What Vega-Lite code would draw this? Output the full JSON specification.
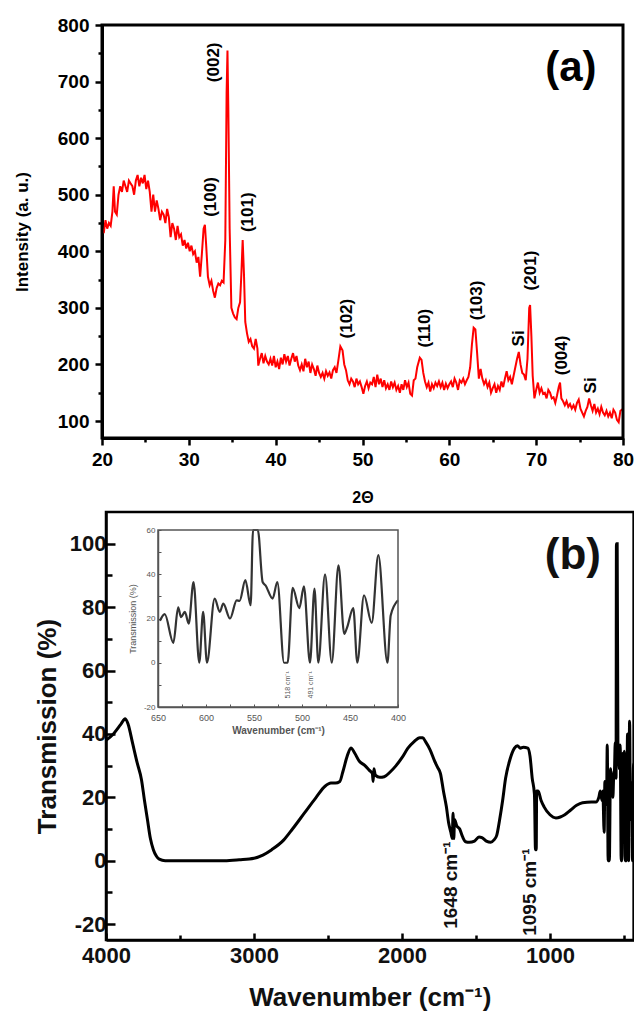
{
"$schema": "https://vega.github.io/schema/vega-lite/v6.json",
"width": 634, "height": 1012,
"autosize": {"type": "none"},
"padding": 0,
"background": "white",
"config": {"view": {"stroke": null}, "axis": {"grid": false, "labelFont": "Liberation Sans", "titleFont": "Liberation Sans", "labelFlush": false, "labelOverlap": false, "labelBound": false}, "text": {"font": "Liberation Sans"}},
"datasets": {
"xrd": [
{"two_theta":20.0,"intensity":440},{"two_theta":20.2,"intensity":432},{"two_theta":20.4,"intensity":455},{"two_theta":20.6,"intensity":440},{"two_theta":20.8,"intensity":450},{"two_theta":21.0,"intensity":445},{"two_theta":21.2,"intensity":470},{"two_theta":21.35,"intensity":515},{"two_theta":21.5,"intensity":470},{"two_theta":21.7,"intensity":465},{"two_theta":21.9,"intensity":500},{"two_theta":22.1,"intensity":515},{"two_theta":22.3,"intensity":505},{"two_theta":22.5,"intensity":525},{"two_theta":22.7,"intensity":515},{"two_theta":22.9,"intensity":505},{"two_theta":23.1,"intensity":525},{"two_theta":23.3,"intensity":520},{"two_theta":23.5,"intensity":515},{"two_theta":23.7,"intensity":500},{"two_theta":23.9,"intensity":525},{"two_theta":24.1,"intensity":535},{"two_theta":24.3,"intensity":515},{"two_theta":24.5,"intensity":530},{"two_theta":24.7,"intensity":520},{"two_theta":24.9,"intensity":535},{"two_theta":25.1,"intensity":510},{"two_theta":25.3,"intensity":525},{"two_theta":25.5,"intensity":505},{"two_theta":25.7,"intensity":470},{"two_theta":25.9,"intensity":500},{"two_theta":26.1,"intensity":470},{"two_theta":26.3,"intensity":490},{"two_theta":26.5,"intensity":475},{"two_theta":26.7,"intensity":455},{"two_theta":26.9,"intensity":470},{"two_theta":27.1,"intensity":465},{"two_theta":27.3,"intensity":450},{"two_theta":27.5,"intensity":475},{"two_theta":27.7,"intensity":460},{"two_theta":27.9,"intensity":425},{"two_theta":28.1,"intensity":450},{"two_theta":28.3,"intensity":440},{"two_theta":28.5,"intensity":420},{"two_theta":28.7,"intensity":445},{"two_theta":28.9,"intensity":425},{"two_theta":29.1,"intensity":430},{"two_theta":29.3,"intensity":410},{"two_theta":29.5,"intensity":420},{"two_theta":29.7,"intensity":405},{"two_theta":29.9,"intensity":415},{"two_theta":30.1,"intensity":400},{"two_theta":30.3,"intensity":410},{"two_theta":30.5,"intensity":395},{"two_theta":30.7,"intensity":400},{"two_theta":30.9,"intensity":380},{"two_theta":31.1,"intensity":390},{"two_theta":31.3,"intensity":355},{"two_theta":31.5,"intensity":395},{"two_theta":31.7,"intensity":440},{"two_theta":31.85,"intensity":447},{"two_theta":32.0,"intensity":410},{"two_theta":32.2,"intensity":355},{"two_theta":32.4,"intensity":340},{"two_theta":32.6,"intensity":348},{"two_theta":32.8,"intensity":330},{"two_theta":33.0,"intensity":318},{"two_theta":33.2,"intensity":335},{"two_theta":33.4,"intensity":343},{"two_theta":33.6,"intensity":340},{"two_theta":33.8,"intensity":348},{"two_theta":34.0,"intensity":345},{"two_theta":34.2,"intensity":420},{"two_theta":34.35,"intensity":680},{"two_theta":34.45,"intensity":755},{"two_theta":34.55,"intensity":650},{"two_theta":34.7,"intensity":440},{"two_theta":34.9,"intensity":300},{"two_theta":35.1,"intensity":290},{"two_theta":35.3,"intensity":283},{"two_theta":35.5,"intensity":280},{"two_theta":35.7,"intensity":300},{"two_theta":35.9,"intensity":310},{"two_theta":36.05,"intensity":360},{"two_theta":36.2,"intensity":420},{"two_theta":36.35,"intensity":360},{"two_theta":36.5,"intensity":275},{"two_theta":36.7,"intensity":255},{"two_theta":36.9,"intensity":240},{"two_theta":37.1,"intensity":245},{"two_theta":37.3,"intensity":232},{"two_theta":37.5,"intensity":228},{"two_theta":37.7,"intensity":245},{"two_theta":37.9,"intensity":228},{"two_theta":38.0,"intensity":198},{"two_theta":38.2,"intensity":210},{"two_theta":38.4,"intensity":220},{"two_theta":38.6,"intensity":202},{"two_theta":38.8,"intensity":215},{"two_theta":39.0,"intensity":205},{"two_theta":39.2,"intensity":200},{"two_theta":39.4,"intensity":210},{"two_theta":39.6,"intensity":198},{"two_theta":39.8,"intensity":215},{"two_theta":40.0,"intensity":195},{"two_theta":40.2,"intensity":205},{"two_theta":40.4,"intensity":192},{"two_theta":40.6,"intensity":212},{"two_theta":40.8,"intensity":200},{"two_theta":41.0,"intensity":218},{"two_theta":41.2,"intensity":205},{"two_theta":41.4,"intensity":215},{"two_theta":41.6,"intensity":198},{"two_theta":41.8,"intensity":210},{"two_theta":42.0,"intensity":220},{"two_theta":42.2,"intensity":205},{"two_theta":42.4,"intensity":215},{"two_theta":42.6,"intensity":198},{"two_theta":42.8,"intensity":190},{"two_theta":43.0,"intensity":200},{"two_theta":43.2,"intensity":188},{"two_theta":43.4,"intensity":210},{"two_theta":43.6,"intensity":195},{"two_theta":43.8,"intensity":205},{"two_theta":44.0,"intensity":185},{"two_theta":44.2,"intensity":200},{"two_theta":44.4,"intensity":192},{"two_theta":44.6,"intensity":180},{"two_theta":44.8,"intensity":198},{"two_theta":45.0,"intensity":185},{"two_theta":45.2,"intensity":178},{"two_theta":45.4,"intensity":185},{"two_theta":45.6,"intensity":175},{"two_theta":45.8,"intensity":188},{"two_theta":46.0,"intensity":180},{"two_theta":46.2,"intensity":186},{"two_theta":46.4,"intensity":175},{"two_theta":46.6,"intensity":190},{"two_theta":46.8,"intensity":195},{"two_theta":47.0,"intensity":185},{"two_theta":47.2,"intensity":205},{"two_theta":47.45,"intensity":232},{"two_theta":47.7,"intensity":225},{"two_theta":47.9,"intensity":200},{"two_theta":48.1,"intensity":190},{"two_theta":48.3,"intensity":172},{"two_theta":48.5,"intensity":165},{"two_theta":48.7,"intensity":175},{"two_theta":48.9,"intensity":170},{"two_theta":49.1,"intensity":160},{"two_theta":49.3,"intensity":175},{"two_theta":49.5,"intensity":165},{"two_theta":49.7,"intensity":170},{"two_theta":49.9,"intensity":160},{"two_theta":50.1,"intensity":148},{"two_theta":50.3,"intensity":162},{"two_theta":50.5,"intensity":170},{"two_theta":50.7,"intensity":158},{"two_theta":50.9,"intensity":168},{"two_theta":51.1,"intensity":165},{"two_theta":51.3,"intensity":178},{"two_theta":51.5,"intensity":160},{"two_theta":51.7,"intensity":182},{"two_theta":51.9,"intensity":165},{"two_theta":52.1,"intensity":175},{"two_theta":52.3,"intensity":160},{"two_theta":52.5,"intensity":172},{"two_theta":52.7,"intensity":158},{"two_theta":52.9,"intensity":165},{"two_theta":53.1,"intensity":155},{"two_theta":53.3,"intensity":170},{"two_theta":53.5,"intensity":160},{"two_theta":53.7,"intensity":168},{"two_theta":53.9,"intensity":155},{"two_theta":54.1,"intensity":162},{"two_theta":54.3,"intensity":150},{"two_theta":54.5,"intensity":165},{"two_theta":54.7,"intensity":155},{"two_theta":54.9,"intensity":172},{"two_theta":55.1,"intensity":160},{"two_theta":55.3,"intensity":168},{"two_theta":55.5,"intensity":148},{"two_theta":55.7,"intensity":145},{"two_theta":55.9,"intensity":172},{"two_theta":56.1,"intensity":175},{"two_theta":56.3,"intensity":195},{"two_theta":56.6,"intensity":212},{"two_theta":56.8,"intensity":208},{"two_theta":57.0,"intensity":185},{"two_theta":57.2,"intensity":170},{"two_theta":57.4,"intensity":160},{"two_theta":57.6,"intensity":168},{"two_theta":57.8,"intensity":152},{"two_theta":58.0,"intensity":165},{"two_theta":58.2,"intensity":158},{"two_theta":58.4,"intensity":168},{"two_theta":58.6,"intensity":162},{"two_theta":58.8,"intensity":170},{"two_theta":59.0,"intensity":160},{"two_theta":59.2,"intensity":168},{"two_theta":59.4,"intensity":155},{"two_theta":59.6,"intensity":166},{"two_theta":59.8,"intensity":158},{"two_theta":60.0,"intensity":165},{"two_theta":60.2,"intensity":170},{"two_theta":60.4,"intensity":160},{"two_theta":60.6,"intensity":175},{"two_theta":60.8,"intensity":168},{"two_theta":61.0,"intensity":155},{"two_theta":61.2,"intensity":172},{"two_theta":61.4,"intensity":168},{"two_theta":61.6,"intensity":175},{"two_theta":61.8,"intensity":165},{"two_theta":62.0,"intensity":172},{"two_theta":62.2,"intensity":178},{"two_theta":62.4,"intensity":195},{"two_theta":62.6,"intensity":235},{"two_theta":62.8,"intensity":265},{"two_theta":63.0,"intensity":262},{"two_theta":63.2,"intensity":220},{"two_theta":63.4,"intensity":175},{"two_theta":63.6,"intensity":192},{"two_theta":63.8,"intensity":175},{"two_theta":64.0,"intensity":165},{"two_theta":64.2,"intensity":172},{"two_theta":64.4,"intensity":160},{"two_theta":64.6,"intensity":168},{"two_theta":64.8,"intensity":150},{"two_theta":65.0,"intensity":158},{"two_theta":65.2,"intensity":165},{"two_theta":65.4,"intensity":150},{"two_theta":65.6,"intensity":162},{"two_theta":65.8,"intensity":155},{"two_theta":66.0,"intensity":170},{"two_theta":66.2,"intensity":160},{"two_theta":66.4,"intensity":175},{"two_theta":66.6,"intensity":188},{"two_theta":66.8,"intensity":172},{"two_theta":67.0,"intensity":178},{"two_theta":67.2,"intensity":165},{"two_theta":67.4,"intensity":180},{"two_theta":67.6,"intensity":195},{"two_theta":67.8,"intensity":210},{"two_theta":68.0,"intensity":222},{"two_theta":68.2,"intensity":200},{"two_theta":68.4,"intensity":185},{"two_theta":68.6,"intensity":182},{"two_theta":68.8,"intensity":172},{"two_theta":69.0,"intensity":210},{"two_theta":69.2,"intensity":300},{"two_theta":69.3,"intensity":305},{"two_theta":69.45,"intensity":250},{"two_theta":69.6,"intensity":180},{"two_theta":69.8,"intensity":140},{"two_theta":70.0,"intensity":155},{"two_theta":70.2,"intensity":168},{"two_theta":70.4,"intensity":150},{"two_theta":70.6,"intensity":158},{"two_theta":70.8,"intensity":148},{"two_theta":71.0,"intensity":150},{"two_theta":71.2,"intensity":140},{"two_theta":71.4,"intensity":155},{"two_theta":71.6,"intensity":150},{"two_theta":71.8,"intensity":140},{"two_theta":72.0,"intensity":142},{"two_theta":72.2,"intensity":132},{"two_theta":72.4,"intensity":145},{"two_theta":72.6,"intensity":160},{"two_theta":72.75,"intensity":168},{"two_theta":72.9,"intensity":140},{"two_theta":73.1,"intensity":135},{"two_theta":73.3,"intensity":128},{"two_theta":73.5,"intensity":135},{"two_theta":73.7,"intensity":125},{"two_theta":73.9,"intensity":130},{"two_theta":74.1,"intensity":122},{"two_theta":74.3,"intensity":128},{"two_theta":74.5,"intensity":120},{"two_theta":74.7,"intensity":132},{"two_theta":74.9,"intensity":138},{"two_theta":75.1,"intensity":122},{"two_theta":75.3,"intensity":115},{"two_theta":75.5,"intensity":108},{"two_theta":75.7,"intensity":118},{"two_theta":75.9,"intensity":125},{"two_theta":76.1,"intensity":140},{"two_theta":76.3,"intensity":128},{"two_theta":76.5,"intensity":118},{"two_theta":76.7,"intensity":130},{"two_theta":76.9,"intensity":115},{"two_theta":77.1,"intensity":122},{"two_theta":77.3,"intensity":112},{"two_theta":77.5,"intensity":125},{"two_theta":77.7,"intensity":115},{"two_theta":77.9,"intensity":110},{"two_theta":78.1,"intensity":118},{"two_theta":78.3,"intensity":108},{"two_theta":78.5,"intensity":115},{"two_theta":78.7,"intensity":105},{"two_theta":78.9,"intensity":120},{"two_theta":79.1,"intensity":115},{"two_theta":79.3,"intensity":102},{"two_theta":79.5,"intensity":98},{"two_theta":79.7,"intensity":118},{"two_theta":79.9,"intensity":120},{"two_theta":80.0,"intensity":122}
],
"xrdLabels": [
{"two_theta":32.95,"intensity":734,"label":"(002)"},
{"two_theta":32.5,"intensity":496,"label":"(100)"},
{"two_theta":36.8,"intensity":469,"label":"(101)"},
{"two_theta":48.2,"intensity":281,"label":"(102)"},
{"two_theta":57.2,"intensity":264,"label":"(110)"},
{"two_theta":63.2,"intensity":313,"label":"(103)"},
{"two_theta":68.0,"intensity":246,"label":"Si"},
{"two_theta":69.4,"intensity":366,"label":"(201)"},
{"two_theta":73.0,"intensity":216,"label":"(004)"},
{"two_theta":76.3,"intensity":163,"label":"Si"}
],
"panelA": [{"two_theta":74.0,"intensity":724,"label":"(a)"}],
"frameA": [{"two_theta":20,"two_theta_end":80,"intensity":70,"intensity_end":800}],
"ftir": [
{"wn":4000,"T":38},{"wn":3950,"T":40},{"wn":3900,"T":43},{"wn":3870,"T":44.8},{"wn":3850,"T":43},{"wn":3820,"T":37},{"wn":3790,"T":31},{"wn":3760,"T":25.5},{"wn":3740,"T":19},{"wn":3720,"T":13},{"wn":3700,"T":7},{"wn":3680,"T":3.5},{"wn":3660,"T":1.5},{"wn":3640,"T":0.5},{"wn":3600,"T":0},{"wn":3400,"T":0},{"wn":3200,"T":0},{"wn":3100,"T":0.3},{"wn":3000,"T":0.8},{"wn":2940,"T":1.8},{"wn":2880,"T":3.5},{"wn":2800,"T":6.5},{"wn":2740,"T":10},{"wn":2660,"T":15},{"wn":2580,"T":20},{"wn":2520,"T":23.5},{"wn":2480,"T":24.5},{"wn":2450,"T":24.5},{"wn":2420,"T":25},{"wn":2400,"T":28},{"wn":2370,"T":33},{"wn":2345,"T":35.6},{"wn":2320,"T":34},{"wn":2290,"T":31.5},{"wn":2250,"T":30},{"wn":2220,"T":28.5},{"wn":2200,"T":27.5},{"wn":2195,"T":25},{"wn":2190,"T":29},{"wn":2180,"T":27},{"wn":2150,"T":26.3},{"wn":2120,"T":26.5},{"wn":2080,"T":28},{"wn":2040,"T":30},{"wn":2000,"T":32.5},{"wn":1960,"T":35.5},{"wn":1920,"T":37.5},{"wn":1880,"T":38.8},{"wn":1860,"T":38.8},{"wn":1840,"T":37.5},{"wn":1810,"T":35},{"wn":1780,"T":31.5},{"wn":1760,"T":29.5},{"wn":1740,"T":27.5},{"wn":1720,"T":22},{"wn":1700,"T":17},{"wn":1685,"T":12},{"wn":1670,"T":9},{"wn":1660,"T":7},{"wn":1655,"T":15},{"wn":1650,"T":7},{"wn":1645,"T":13},{"wn":1630,"T":11},{"wn":1610,"T":10},{"wn":1590,"T":7.5},{"wn":1570,"T":6},{"wn":1545,"T":5.8},{"wn":1510,"T":6.2},{"wn":1480,"T":7.5},{"wn":1460,"T":7.3},{"wn":1430,"T":6.2},{"wn":1400,"T":5.8},{"wn":1380,"T":6.5},{"wn":1360,"T":8},{"wn":1340,"T":13},{"wn":1320,"T":19},{"wn":1300,"T":26},{"wn":1270,"T":32},{"wn":1240,"T":35.5},{"wn":1220,"T":36.3},{"wn":1200,"T":35.5},{"wn":1180,"T":35.8},{"wn":1150,"T":35.5},{"wn":1135,"T":33},{"wn":1120,"T":26},{"wn":1105,"T":21},{"wn":1098,"T":3.5},{"wn":1093,"T":3.5},{"wn":1090,"T":22},{"wn":1080,"T":22},{"wn":1060,"T":19},{"wn":1040,"T":17},{"wn":1000,"T":14.5},{"wn":960,"T":13.5},{"wn":930,"T":13.8},{"wn":900,"T":14.5},{"wn":860,"T":16},{"wn":820,"T":17.5},{"wn":780,"T":18.3},{"wn":720,"T":18.5},{"wn":690,"T":18.5},{"wn":670,"T":20},{"wn":660,"T":22},
{"wn":648,"T":19},{"wn":643,"T":22},{"wn":634,"T":9},{"wn":629,"T":25},{"wn":626,"T":20.6},{"wn":622,"T":23},{"wn":618,"T":17.7},{"wn":613,"T":36.5},{"wn":607,"T":0},{"wn":603,"T":23},{"wn":599,"T":0},{"wn":591,"T":29},{"wn":585.6,"T":23},{"wn":582,"T":26.7},{"wn":575,"T":20},{"wn":568,"T":28.2},{"wn":565,"T":28},{"wn":559,"T":37.3},{"wn":553.5,"T":26},{"wn":551,"T":100},{"wn":546,"T":100},{"wn":541,"T":36.5},{"wn":538,"T":35},{"wn":530.6,"T":29},{"wn":525.7,"T":36.5},{"wn":518.7,"T":0},{"wn":515,"T":0},{"wn":509.7,"T":33.8},{"wn":502.8,"T":24.7},{"wn":498,"T":34.5},{"wn":491.7,"T":0},{"wn":487,"T":33.5},{"wn":483,"T":0},{"wn":476,"T":40},{"wn":469,"T":0},{"wn":462,"T":44},{"wn":456,"T":13},{"wn":453,"T":16},{"wn":446.6,"T":24.7},{"wn":442.4,"T":0},{"wn":435.4,"T":30.5},{"wn":427.4,"T":18},{"wn":420.5,"T":48.6},{"wn":411,"T":0},{"wn":407.6,"T":21.4},{"wn":400,"T":28.2}
],
"ftirLabels": [{"wn":1669,"T":-7.7,"label":"1648 cm⁻¹"},{"wn":1135,"T":-9.9,"label":"1095 cm⁻¹"}],
"panelB": [{"wn":845,"T":96,"label":"(b)"}],
"frameB": [{"wn":435,"wn_end":4000,"T":-25,"T_end":110}],
"insetLabels": [{"wn":515,"T":-10,"label":"518 cm⁻¹"},{"wn":491,"T":-10,"label":"491 cm⁻¹"}],
"frameInset": [{"wn":400,"wn_end":650,"T":-20,"T_end":60}]
},
"layer": [
{
"resolve": {"axis": {"x": "independent", "y": "independent"}},
"layer": [
{"data": {"name": "xrd"}, "mark": {"type": "line", "color": "#ff0000", "strokeWidth": 2},
 "encoding": {
  "x": {"field": "two_theta", "type": "quantitative", "scale": {"domain": [20, 80], "range": [102, 623], "nice": false, "zero": false},
   "axis": {"orient": "bottom", "offset": -574, "title": "2Θ", "titleFontSize": 16, "titleFontWeight": "bold", "titleColor": "black", "titleY": 59, "titleBaseline": "middle",
    "values": [20,25,30,35,40,45,50,55,60,65,70,75,80], "labelExpr": "datum.value % 10 === 0 ? datum.label : ''",
    "tickSize": {"condition": {"test": "datum.value % 10 === 0", "value": 7}, "value": 4}, "tickWidth": 2.5, "tickColor": "black",
    "domainColor": "black", "domainWidth": 3, "labelFontSize": 19, "labelFontWeight": "bold", "labelColor": "black", "labelPadding": 5}},
  "y": {"field": "intensity", "type": "quantitative", "scale": {"domain": [70, 800], "range": [438, 25], "nice": false, "zero": false},
   "axis": {"orient": "left", "offset": -102, "title": "Intensity (a. u.)", "titleFontSize": 17, "titleFontWeight": "bold", "titleColor": "black", "titleX": -80, "titleBaseline": "middle",
    "values": [100,150,200,250,300,350,400,450,500,550,600,650,700,750,800], "labelExpr": "datum.value % 100 === 0 ? datum.label : ''",
    "tickSize": {"condition": {"test": "datum.value % 100 === 0", "value": 7}, "value": 4}, "tickWidth": 2.5, "tickColor": "black",
    "domainColor": "black", "domainWidth": 3, "labelFontSize": 19, "labelFontWeight": "bold", "labelColor": "black", "labelPadding": 6}}
 }},
{"data": {"name": "frameA"}, "mark": {"type": "rect", "filled": false, "stroke": "black", "strokeWidth": 3},
 "encoding": {
  "x": {"field": "two_theta", "type": "quantitative", "scale": {"domain": [20, 80], "range": [102, 623], "nice": false, "zero": false}, "axis": null},
  "x2": {"field": "two_theta_end"},
  "y": {"field": "intensity", "type": "quantitative", "scale": {"domain": [70, 800], "range": [438, 25], "nice": false, "zero": false}, "axis": null},
  "y2": {"field": "intensity_end"}
 }},
{"data": {"name": "xrdLabels"}, "mark": {"type": "text", "angle": 270, "fontSize": 17, "fontWeight": "bold", "color": "black", "align": "center", "baseline": "middle"},
 "encoding": {
  "x": {"field": "two_theta", "type": "quantitative", "scale": {"domain": [20, 80], "range": [102, 623], "nice": false, "zero": false}, "axis": null},
  "y": {"field": "intensity", "type": "quantitative", "scale": {"domain": [70, 800], "range": [438, 25], "nice": false, "zero": false}, "axis": null},
  "text": {"field": "label"}
 }},
{"data": {"name": "panelA"}, "mark": {"type": "text", "fontSize": 42, "fontWeight": "bold", "color": "black", "align": "center", "baseline": "middle"},
 "encoding": {
  "x": {"field": "two_theta", "type": "quantitative", "scale": {"domain": [20, 80], "range": [102, 623], "nice": false, "zero": false}, "axis": null},
  "y": {"field": "intensity", "type": "quantitative", "scale": {"domain": [70, 800], "range": [438, 25], "nice": false, "zero": false}, "axis": null},
  "text": {"field": "label"}
 }}
]
},
{
"resolve": {"axis": {"x": "independent", "y": "independent"}},
"layer": [
{"data": {"name": "ftir"}, "mark": {"type": "line", "color": "black", "strokeWidth": 3, "interpolate": "monotone"},
 "encoding": {
  "x": {"field": "wn", "type": "quantitative", "sort": null, "scale": {"domain": [435, 4000], "range": [633.6, 106], "nice": false, "zero": false},
   "axis": {"orient": "bottom", "offset": -72, "title": "Wavenumber (cm⁻¹)", "titleFontSize": 26, "titleFontWeight": "bold", "titleColor": "#111", "titleY": 57, "titleBaseline": "middle",
    "values": [4000,3500,3000,2500,2000,1500,1000,500], "labelExpr": "datum.value % 1000 === 0 ? '' + datum.value : ''",
    "tickSize": {"condition": {"test": "datum.value % 1000 === 0", "value": -7}, "value": -5}, "tickWidth": 2.5, "tickColor": "black",
    "domainColor": "black", "domainWidth": 2.5, "labelFontSize": 22, "labelFontWeight": "bold", "labelColor": "#111", "labelPadding": 12}},
  "y": {"field": "T", "type": "quantitative", "scale": {"domain": [-25, 110], "range": [940, 512], "nice": false, "zero": false},
   "axis": {"orient": "left", "offset": -106, "title": "Transmission (%)", "titleFontSize": 26, "titleFontWeight": "bold", "titleColor": "#111", "titleX": -59, "titleBaseline": "middle",
    "values": [-20,-10,0,10,20,30,40,50,60,70,80,90,100], "labelExpr": "datum.value % 20 === 0 ? '' + datum.value : ''",
    "tickSize": {"condition": {"test": "datum.value % 20 === 0", "value": -9}, "value": -6}, "tickWidth": 2.5, "tickColor": "black",
    "domainColor": "black", "domainWidth": 2.5, "labelFontSize": 22, "labelFontWeight": "bold", "labelColor": "#111", "labelPadding": 9}}
 }},
{"data": {"name": "frameB"}, "mark": {"type": "rect", "filled": false, "stroke": "black", "strokeWidth": 2.5},
 "encoding": {
  "x": {"field": "wn", "type": "quantitative", "scale": {"domain": [435, 4000], "range": [633.6, 106], "nice": false, "zero": false}, "axis": null},
  "x2": {"field": "wn_end"},
  "y": {"field": "T", "type": "quantitative", "scale": {"domain": [-25, 110], "range": [940, 512], "nice": false, "zero": false}, "axis": null},
  "y2": {"field": "T_end"}
 }},
{"data": {"name": "ftirLabels"}, "mark": {"type": "text", "angle": 270, "fontSize": 19, "fontWeight": "bold", "color": "#111", "align": "center", "baseline": "middle"},
 "encoding": {
  "x": {"field": "wn", "type": "quantitative", "scale": {"domain": [435, 4000], "range": [633.6, 106], "nice": false, "zero": false}, "axis": null},
  "y": {"field": "T", "type": "quantitative", "scale": {"domain": [-25, 110], "range": [940, 512], "nice": false, "zero": false}, "axis": null},
  "text": {"field": "label"}
 }},
{"data": {"name": "panelB"}, "mark": {"type": "text", "fontSize": 44, "fontWeight": "bold", "color": "#111", "align": "center", "baseline": "middle"},
 "encoding": {
  "x": {"field": "wn", "type": "quantitative", "scale": {"domain": [435, 4000], "range": [633.6, 106], "nice": false, "zero": false}, "axis": null},
  "y": {"field": "T", "type": "quantitative", "scale": {"domain": [-25, 110], "range": [940, 512], "nice": false, "zero": false}, "axis": null},
  "text": {"field": "label"}
 }}
]
},
{
"resolve": {"axis": {"x": "independent", "y": "independent"}},
"layer": [
{"data": {"name": "ftir"}, "transform": [{"filter": "datum.wn <= 650"}], "mark": {"type": "line", "color": "#333", "strokeWidth": 2.2, "interpolate": "monotone"},
 "encoding": {
  "x": {"field": "wn", "type": "quantitative", "sort": null, "scale": {"domain": [400, 650], "range": [398, 158], "nice": false, "zero": false},
   "axis": {"orient": "bottom", "offset": -305, "title": "Wavenumber (cm⁻¹)", "titleFontSize": 10, "titleFontWeight": "bold", "titleColor": "#555", "titleY": 23, "titleBaseline": "middle",
    "values": [400,425,450,475,500,525,550,575,600,625,650], "labelExpr": "datum.value % 50 === 0 ? datum.label : ''",
    "tickSize": -3, "tickWidth": 1, "tickColor": "#555",
    "domainColor": "#555", "domainWidth": 1.5, "labelFontSize": 9, "labelFontWeight": "normal", "labelColor": "#555", "labelPadding": 9}},
  "y": {"field": "T", "type": "quantitative", "scale": {"domain": [-20, 60], "range": [707, 530], "nice": false, "zero": false, "clamp": true},
   "axis": {"orient": "left", "offset": -158, "title": "Transmission (%)", "titleFontSize": 9, "titleFontWeight": "normal", "titleColor": "#555", "titleX": -26, "titleBaseline": "middle",
    "values": [-20,-10,0,10,20,30,40,50,60], "labelExpr": "datum.value % 20 === 0 ? '' + datum.value : ''",
    "tickSize": -3, "tickWidth": 1, "tickColor": "#555",
    "domainColor": "#555", "domainWidth": 1.5, "labelFontSize": 8, "labelFontWeight": "normal", "labelColor": "#555", "labelPadding": 6}}
 }},
{"data": {"name": "frameInset"}, "mark": {"type": "rect", "filled": false, "stroke": "#555", "strokeWidth": 1.5},
 "encoding": {
  "x": {"field": "wn", "type": "quantitative", "scale": {"domain": [400, 650], "range": [398, 158], "nice": false, "zero": false}, "axis": null},
  "x2": {"field": "wn_end"},
  "y": {"field": "T", "type": "quantitative", "scale": {"domain": [-20, 60], "range": [707, 530], "nice": false, "zero": false, "clamp": true}, "axis": null},
  "y2": {"field": "T_end"}
 }},
{"data": {"name": "insetLabels"}, "mark": {"type": "text", "angle": 270, "fontSize": 7, "color": "#555", "align": "center", "baseline": "middle"},
 "encoding": {
  "x": {"field": "wn", "type": "quantitative", "scale": {"domain": [400, 650], "range": [398, 158], "nice": false, "zero": false}, "axis": null},
  "y": {"field": "T", "type": "quantitative", "scale": {"domain": [-20, 60], "range": [707, 530], "nice": false, "zero": false, "clamp": true}, "axis": null},
  "text": {"field": "label"}
 }}
]
}
],
"resolve": {"scale": {"x": "independent", "y": "independent"}}
}
